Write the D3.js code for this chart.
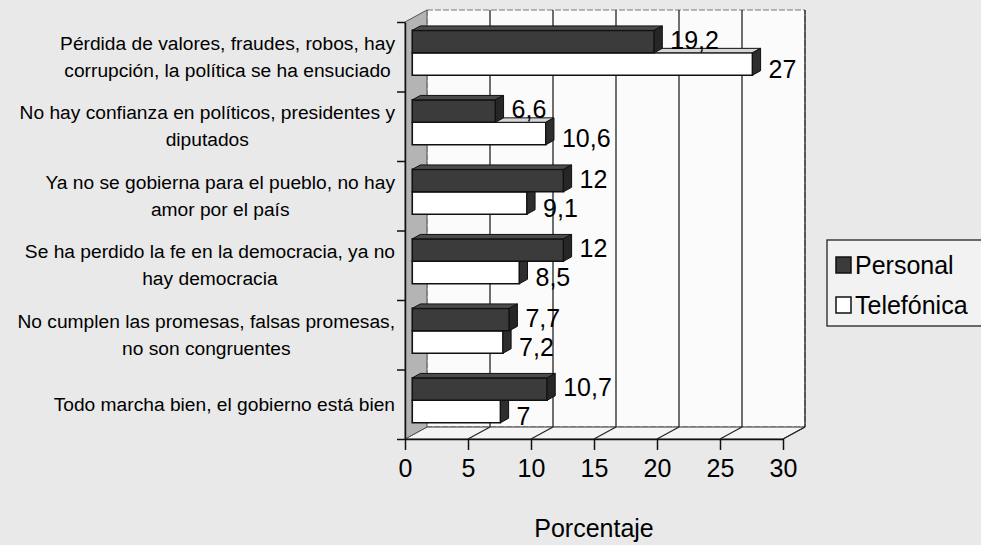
<!DOCTYPE html>
<html>
<head>
<meta charset="utf-8">
<script src="https://cdn.jsdelivr.net/npm/d3@7"></script>
<style>
  html, body { margin: 0; padding: 0; background: #e9e9e9; }
  svg { display: block; font-family: "Liberation Sans", Arial, sans-serif; }
</style>
</head>
<body>
<div id="chart"></div>
<script>
// Data
const categories = [
  "Pérdida de valores, fraudes, robos, hay\ncorrupción, la política se ha ensuciado",
  "No hay confianza en políticos, presidentes y\ndiputados",
  "Ya no se gobierna para el pueblo, no hay\namor por el país",
  "Se ha perdido la fe en la democracia, ya no\nhay democracia",
  "No cumplen las promesas, falsas promesas,\nno son congruentes",
  "Todo marcha bien, el gobierno está bien"
];
const personal = [19.2, 6.6, 12, 12, 7.7, 10.7];
const telefonica = [27, 10.6, 9.1, 8.5, 7.2, 7];
const seriesNames = ["Personal", "Telefónica"];
const xTicks = [0, 5, 10, 15, 20, 25, 30];

const width = 981, height = 545;
const DX = 22, DY = -12;       // depth offset of back wall
const zA = 0.33, zB = 0.7;     // bar depth span

const svg = d3.select('#chart').append('svg')
  .attr('width', width)
  .attr('height', height);

svg.append('rect').attr('width', width).attr('height', height).attr('fill', '#e9e9e9');

const floorY = 439;
const topY = 22;

const x = d3.scaleLinear().domain([0, 30]).range([405, 783]);
const y = d3.scaleBand().domain(categories).range([topY, floorY]);
const ySub = d3.scaleBand().domain(seriesNames).range([0, y.bandwidth()]).paddingOuter(0.55);
const yEdge = d3.scaleLinear().domain([0, categories.length]).range([topY, floorY]);

// projection into depth
const P = (px, py, z) => [px + z * DX, py + z * DY];
const poly = pts => 'M' + pts.map(p => p.join(',')).join('L') + 'Z';

// back wall
svg.append('path')
  .attr('d', poly([P(x(0), topY, 1), P(x(30), topY, 1), P(x(30), floorY, 1), P(x(0), floorY, 1)]))
  .attr('fill', '#fbfbfb')
  .attr('stroke', '#777')
  .attr('stroke-width', 1)
  .attr('stroke-dasharray', '6,2');

// floor
svg.append('path')
  .attr('d', poly([P(x(0), floorY, 0), P(x(30), floorY, 0), P(x(30), floorY, 1), P(x(0), floorY, 1)]))
  .attr('fill', '#f4f4f4')
  .attr('stroke', '#333')
  .attr('stroke-width', 1);

// left wall
svg.append('path')
  .attr('d', poly([P(x(0), topY, 0), P(x(0), topY, 1), P(x(0), floorY, 1), P(x(0), floorY, 0)]))
  .attr('fill', '#b4b4b4')
  .attr('stroke', '#555')
  .attr('stroke-width', 1);

// gridlines on back wall + floor
const grid = svg.append('g');
xTicks.filter(v => v > 0).forEach(v => {
  const a = P(x(v), floorY, 1), b = P(x(v), topY, 1), c = P(x(v), floorY, 0);
  grid.append('line')
    .attr('x1', a[0]).attr('y1', a[1]).attr('x2', b[0]).attr('y2', b[1])
    .attr('stroke', '#222').attr('stroke-width', 1.3);
  grid.append('line')
    .attr('x1', c[0]).attr('y1', c[1]).attr('x2', a[0]).attr('y2', a[1])
    .attr('stroke', '#222').attr('stroke-width', 1.2);
});

// bars
const styles = {
  'Personal': { front: '#3b3b3b', top: '#4b4b4b', side: '#262626', stroke: '#111' },
  'Telefónica': { front: '#ffffff', top: '#d6d6d6', side: '#2e2e2e', stroke: '#111' }
};

const barData = [];
categories.forEach((c, i) => {
  barData.push({ cat: c, s: 'Telefónica', v: telefonica[i] });
  barData.push({ cat: c, s: 'Personal', v: personal[i] });
});

const bars = svg.append('g');
barData.forEach(d => {
  const st = styles[d.s];
  const y0 = y(d.cat) + ySub(d.s);
  const y1 = y0 + ySub.bandwidth();
  const x0 = x(0), x1 = x(d.v);
  const g = bars.append('g');
  g.append('path')
    .attr('d', poly([P(x0, y0, zA), P(x1, y0, zA), P(x1, y1, zA), P(x0, y1, zA)]))
    .attr('fill', st.front).attr('stroke', st.stroke).attr('stroke-width', 1.6);
  g.append('path')
    .attr('d', poly([P(x0, y0, zA), P(x0, y0, zB), P(x1, y0, zB), P(x1, y0, zA)]))
    .attr('fill', st.top).attr('stroke', st.stroke).attr('stroke-width', 1);
  g.append('path')
    .attr('d', poly([P(x1, y0, zA), P(x1, y0, zB), P(x1, y1, zB), P(x1, y1, zA)]))
    .attr('fill', st.side).attr('stroke', st.stroke).attr('stroke-width', 1);
});

// value labels
const fmt = v => String(v).replace('.', ',');
const labelOffset = { 'Personal': -17, 'Telefónica': 12 };
svg.append('g').selectAll('text')
  .data(barData)
  .enter()
  .append('text')
  .attr('x', d => P(x(d.v), 0, zB)[0] + 8)
  .attr('y', d => y(d.cat) + y.bandwidth() / 2 + labelOffset[d.s])
  .attr('dy', '0.36em')
  .attr('font-size', '25px')
  .attr('fill', '#000')
  .text(d => fmt(d.v));

// front axes
const xAxis = d3.axisBottom(x).tickValues(xTicks).tickSize(11).tickSizeOuter(0).tickPadding(9);
const gx = svg.append('g').attr('transform', `translate(0,${floorY})`).call(xAxis);
gx.select('.domain').attr('stroke', '#111').attr('stroke-width', 1.5);
gx.selectAll('.tick line').attr('stroke', '#111').attr('stroke-width', 1.5);
gx.selectAll('.tick text')
  .attr('font-size', '25px')
  .attr('font-family', '"Liberation Sans", Arial, sans-serif')
  .attr('fill', '#000');

const yAxis = d3.axisLeft(yEdge).tickValues(d3.range(categories.length + 1)).tickFormat('').tickSize(8).tickSizeOuter(0);
const gy = svg.append('g').attr('transform', `translate(${x(0)},0)`).call(yAxis);
gy.select('.domain').attr('stroke', '#111').attr('stroke-width', 1.5);
gy.selectAll('.tick line').attr('stroke', '#111').attr('stroke-width', 1.5);

// category labels
const labelRight = 395;
const lineH = 27;
categories.forEach(c => {
  const lines = c.split('\n');
  const cy = y(c) + y.bandwidth() / 2;
  const t = svg.append('text')
    .attr('font-size', '19.2px')
    .attr('fill', '#000')
    .attr('text-anchor', 'middle');
  lines.forEach((ln, j) => {
    t.append('tspan')
      .attr('y', cy + (j - (lines.length - 1) / 2) * lineH)
      .attr('dy', '0.35em')
      .text(ln);
  });
  const w = d3.max(t.selectAll('tspan').nodes(), n => n.getComputedTextLength());
  t.selectAll('tspan').attr('x', labelRight - w / 2);
});

// axis title
svg.append('text')
  .attr('x', 594)
  .attr('y', 528)
  .attr('dy', '0.35em')
  .attr('text-anchor', 'middle')
  .attr('font-size', '25px')
  .attr('fill', '#000')
  .text('Porcentaje');

// legend
const legend = svg.append('g').attr('transform', 'translate(827,240)');
legend.append('rect')
  .attr('width', 170).attr('height', 86)
  .attr('fill', '#f2f2f2').attr('stroke', '#222').attr('stroke-width', 1.3);
seriesNames.forEach((s, i) => {
  const row = legend.append('g').attr('transform', `translate(9,${25 + i * 40})`);
  row.append('rect')
    .attr('x', 0).attr('y', -8).attr('width', 15).attr('height', 16)
    .attr('fill', s === 'Personal' ? '#3b3b3b' : '#fff')
    .attr('stroke', '#111').attr('stroke-width', 1.5);
  row.append('text')
    .attr('x', 19).attr('dy', '0.36em')
    .attr('font-size', '25px')
    .attr('fill', '#000')
    .text(s);
});
</script>
</body>
</html>
